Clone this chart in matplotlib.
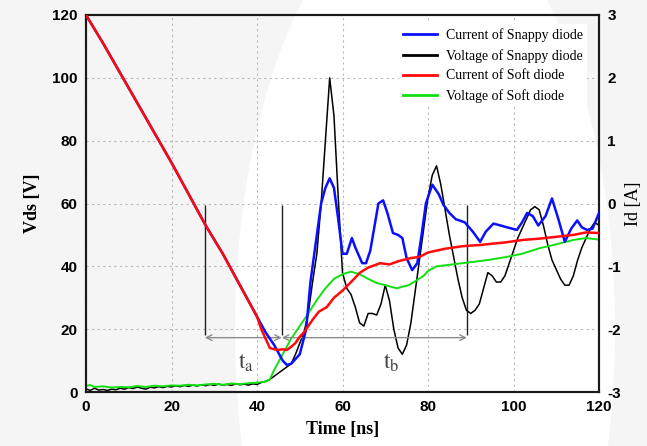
import matplotlib
matplotlib.use("Agg")
import matplotlib.pyplot as plt
from matplotlib.patches import Ellipse
from matplotlib.lines import Line2D
from matplotlib.font_manager import FontProperties

# ---- data (time in ns, Vds in V, Id in A) ----
snappy_i_t = [0, 4, 8, 12, 16, 20, 24, 28, 32, 36, 40, 42, 44, 46, 47, 48, 50, 51.5, 52.5,
              54, 55, 56, 57, 58, 59, 60, 61, 62.2, 63, 64.6, 65.5, 66.5, 68.4, 69.5, 70.5,
              71.8, 73, 74, 75, 76.3, 77.5, 78.5, 79.5, 81, 82.5, 83.6, 85, 86.5, 88.6, 90.5,
              92.2, 93.5, 95.3, 97, 98.5, 100.8, 102, 103.2, 104.5, 105.8, 107.5, 109, 110.5,
              112, 113.5, 114.9, 116, 117.2, 118.5, 120]
snappy_i = [3.0, 2.55, 2.075, 1.6, 1.125, 0.65, 0.15, -0.35, -0.8, -1.3, -1.8, -2.05, -2.25,
            -2.5, -2.57, -2.55, -2.4, -2.0, -1.25, -0.5, 0.0, 0.25, 0.4, 0.25, -0.25, -0.8,
            -0.8, -0.55, -0.7, -0.95, -0.95, -0.75, 0.0, 0.05, -0.15, -0.47, -0.5, -0.55,
            -0.87, -1.06, -0.95, -0.5, 0.0, 0.3, 0.15, -0.02, -0.15, -0.25, -0.3, -0.45,
            -0.61, -0.45, -0.32, -0.35, -0.38, -0.42, -0.3, -0.15, -0.2, -0.35, -0.2, 0.08,
            -0.25, -0.61, -0.4, -0.27, -0.38, -0.42, -0.4, -0.15]

soft_i_t = [0, 4, 8, 12, 16, 20, 24, 28, 32, 36, 40, 41, 42, 43, 44, 45, 46, 47, 48, 49, 50,
            51, 52, 53, 54.5, 56.3, 58, 60.1, 62, 64.1, 66, 68.8, 71, 73, 75.8, 78, 80, 82,
            84, 86, 88, 90, 92.2, 95, 98, 102.2, 106, 110, 114, 117, 120]
soft_i = [3.0, 2.55, 2.075, 1.6, 1.125, 0.65, 0.15, -0.35, -0.8, -1.3, -1.8, -2.0, -2.15,
          -2.3, -2.32, -2.33, -2.32, -2.33, -2.28, -2.22, -2.12, -2.05, -1.95, -1.85, -1.72,
          -1.65, -1.5, -1.38, -1.25, -1.1, -1.02, -0.95, -0.97, -0.92, -0.87, -0.85, -0.78,
          -0.75, -0.72, -0.7, -0.68, -0.67, -0.66, -0.64, -0.62, -0.58, -0.56, -0.53,
          -0.5, -0.46, -0.47]

snappy_v_t = list(range(0, 121))
snappy_v = [1.0, 0.5, 1.2, 0.6, 0.8, 0.5, 0.9, 0.7, 1.2, 0.9, 1.4, 1.1, 1.6, 1.2, 0.9, 1.5,
            1.3, 1.7, 1.4, 1.8, 1.6, 2.0, 1.7, 2.1, 1.8, 2.2, 1.9, 2.3, 2.0, 2.4, 2.1, 2.5,
            2.2, 2.4, 2.1, 2.6, 2.3, 2.5, 2.2, 2.6, 2.4, 3.0, 3.4, 4.0, 5.0, 6.0, 7.0, 8.0,
            9.0, 12, 15.5, 19, 25, 35, 44, 60, 80, 100, 88, 62, 38, 33, 31, 27, 22, 21, 25,
            25, 24.5, 28, 34, 29, 20, 14, 12, 15, 22, 32, 42, 52, 62, 69, 72, 66, 58, 50, 43,
            36, 30, 26, 25, 26, 28, 33, 38, 37, 35, 35, 37, 41, 45, 49, 52, 55, 58, 59, 58,
            53, 47, 42, 39, 36, 34, 34, 37, 42, 46, 49, 52, 54, 53]

soft_v_t = [0, 1, 2, 4, 6, 8, 10, 12, 14, 16, 18, 20, 22, 24, 26, 28, 30, 32, 34, 36, 38, 40,
            42, 43, 44, 46, 48, 50, 52, 54, 56, 58, 60, 62, 64, 66, 68, 70, 72.7, 74, 75.5,
            77.4, 79, 80, 82, 85, 88, 90.5, 94, 98.4, 102, 106.2, 110, 114, 117, 120]
soft_v = [2.0, 2.2, 1.6, 1.8, 1.4, 1.6, 1.5, 1.9, 1.6, 2.0, 1.8, 2.1, 2.0, 2.3, 2.1, 2.4,
          2.6, 2.3, 2.7, 2.5, 2.8, 3.0, 3.3, 4.0, 7.0, 12, 17, 21, 25, 29.3, 33, 36, 37.5,
          38.3, 37.5, 36, 34.7, 34, 33, 33.5, 34, 35.6, 37, 38.5, 40, 40.5, 41, 41.4, 42,
          43, 44, 45.8, 47, 48.4, 49, 48.5]

series_labels = ["Current of Snappy diode", "Voltage of Snappy diode",
                 "Current of Soft diode", "Voltage of Soft diode"]
x_ticks = [0, 20, 40, 60, 80, 100, 120]
v_ticks = [0, 20, 40, 60, 80, 100, 120]
i_ticks = [-3, -2, -1, 0, 1, 2, 3]

# t_a / t_b markers (ns) and their V range
marker_t = [27.8, 45.8, 89.1]
marker_v = (18, 59.5)
arrow_v = 17.3

plt.rcParams["mathtext.fontset"] = "stix"
plt.rcParams["axes.unicode_minus"] = False
SERIF = "Liberation Serif"
SANS = "Liberation Sans"

fig = plt.figure(figsize=(6.47, 4.46), dpi=100, facecolor="#f5f5f5")
# soft white backdrop like the source image
fig.add_artist(Ellipse((425 / 647, 1 - 330 / 446), 380 / 647, 860 / 446,
                       transform=fig.transFigure, facecolor="white", edgecolor="none",
                       zorder=-5))

ax = fig.add_axes([86 / 647, 54 / 446, 513 / 647, 377 / 446])
ax.set_facecolor("none")
ax2 = ax.twinx()
ax2.set_facecolor("none")

ln_sv, = ax.plot(snappy_v_t, snappy_v, color="black", lw=1.1, zorder=3)
ln_fv, = ax.plot(soft_v_t, soft_v, color="#10e010", lw=1.4, zorder=3)
ln_si, = ax2.plot(snappy_i_t, snappy_i, color="#0a10ff", lw=1.8, zorder=3)
ln_fi, = ax2.plot(soft_i_t, soft_i, color="#ff0a0a", lw=1.8, zorder=4)

ax.set_xlim(0, 120)
ax.set_ylim(0, 120)
ax2.set_ylim(-3, 3)
ax.set_xticks(x_ticks)
ax.set_yticks(v_ticks)
ax2.set_yticks(i_ticks)
ax.grid(True, color="#b8b8b8", linestyle=(0, (2, 3)), linewidth=0.8)

tick_font = FontProperties(family=SANS, weight="bold", size=11)
for a in (ax, ax2):
    a.tick_params(length=0, pad=6)
    for lbl in a.get_xticklabels() + a.get_yticklabels():
        lbl.set_fontproperties(tick_font)
    for sp in a.spines.values():
        sp.set_linewidth(1.5)
        sp.set_color("#1a1a1a")

ax.set_xlabel("Time [ns]", family=SERIF, weight="bold", fontsize=13, labelpad=5)
ax.set_ylabel("Vds [V]", family=SERIF, weight="bold", fontsize=13, labelpad=8)
ax2.set_ylabel("Id [A]", family=SERIF, fontsize=13, labelpad=3)

# t_a / t_b annotations
ax.vlines(marker_t, marker_v[0], marker_v[1], color="#202020", lw=1.0, zorder=2)
for t0, t1 in [(marker_t[0], marker_t[1]), (marker_t[1], marker_t[2])]:
    ax.annotate("", xy=(t1, arrow_v), xytext=(t0, arrow_v),
                arrowprops=dict(arrowstyle="<->", color="#8c8c8c", lw=1.0,
                                shrinkA=0, shrinkB=0))
ax.text(37.5, 9.5, r"$\mathrm{t_a}$", fontsize=17, color="#444444", ha="center", va="center")
ax.text(71.5, 9.5, r"$\mathrm{t_b}$", fontsize=17, color="#444444", ha="center", va="center")

handles = [Line2D([], [], color=ln_si.get_color(), lw=2),
           Line2D([], [], color="black", lw=2),
           Line2D([], [], color=ln_fi.get_color(), lw=2),
           Line2D([], [], color=ln_fv.get_color(), lw=2)]
leg = ax2.legend(handles, series_labels, loc="upper right", bbox_to_anchor=(0.99, 0.995),
                 prop=dict(family=SERIF, size=10), frameon=True, fancybox=False,
                 framealpha=1, edgecolor="none", handlelength=2.5, labelspacing=0.5,
                 borderpad=0.3, handletextpad=0.6)
leg.set_zorder(10)

fig.savefig("out.png", dpi=100, facecolor=fig.get_facecolor())
